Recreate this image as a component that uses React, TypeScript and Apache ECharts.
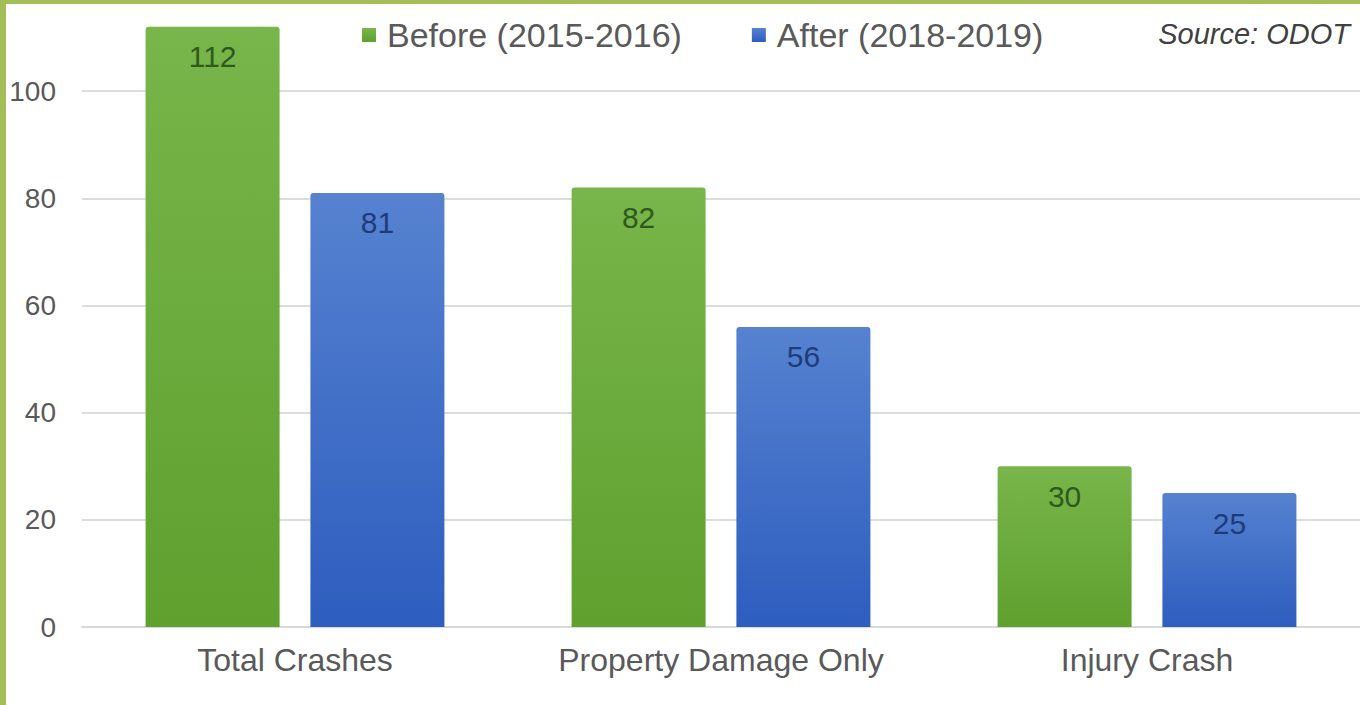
import React, { useEffect, useRef } from "react";
import * as echarts from "echarts";

const categories = ["Total Crashes", "Property Damage Only", "Injury Crash"];
const beforeValues = [112, 82, 30];
const afterValues = [81, 56, 25];
const seriesNames = ["Before (2015-2016)", "After (2018-2019)"];
const sourceText = "Source: ODOT";

const FONT = "'Liberation Sans', Arial, sans-serif";
const SHIFT = 16; // chart canvas extends above the page so the 120 gridline is hidden

export default function App() {
  const ref = useRef<HTMLDivElement>(null);
  useEffect(() => {
    if (!ref.current) return;
    const chart = echarts.init(ref.current, undefined, { renderer: "svg" });
    const green = new echarts.graphic.LinearGradient(0, 0, 0, 1, [
      { offset: 0, color: "#78b54a" },
      { offset: 1, color: "#5fa02f" },
    ]);
    const blue = new echarts.graphic.LinearGradient(0, 0, 0, 1, [
      { offset: 0, color: "#5682d0" },
      { offset: 1, color: "#2d5dbf" },
    ]);
    chart.setOption({
      animation: false,
      backgroundColor: "#ffffff",
      grid: { left: 82, right: 0, top: 0, bottom: 78, containLabel: false },
      legend: {
        top: 13 + SHIFT,
        left: 357,
        itemWidth: 14,
        itemHeight: 14,
        itemGap: 70,
        icon: "rect",
        textStyle: { fontFamily: FONT, fontSize: 34, color: "#595959", padding: [0, 0, 0, 6] },
        data: seriesNames,
      },
      xAxis: {
        type: "category",
        data: categories,
        axisLine: { lineStyle: { color: "#d9d9d9", width: 2 } },
        axisTick: { show: false },
        axisLabel: { fontFamily: FONT, fontSize: 32, color: "#595959", margin: 17 },
      },
      yAxis: {
        type: "value",
        min: 0,
        max: 120,
        interval: 20,
        axisLine: { show: false },
        axisTick: { show: false },
        splitLine: { lineStyle: { color: "#dcdcdc", width: 2 } },
        axisLabel: {
          fontFamily: FONT,
          fontSize: 28,
          color: "#595959",
          margin: 26,
          formatter: (v: number) => (v > 100 ? "" : String(v)),
        },
      },
      series: [
        {
          name: seriesNames[0],
          type: "bar",
          data: beforeValues,
          barWidth: 134,
          barGap: "23%",
          itemStyle: { color: green, borderRadius: [3, 3, 0, 0] },
          label: {
            show: true,
            position: "insideTop",
            distance: 15,
            fontFamily: FONT,
            fontSize: 30,
            color: "#2f5a1d",
          },
        },
        {
          name: seriesNames[1],
          type: "bar",
          data: afterValues,
          barWidth: 134,
          barGap: "23%",
          itemStyle: { color: blue, borderRadius: [3, 3, 0, 0] },
          label: {
            show: true,
            position: "insideTop",
            distance: 15,
            fontFamily: FONT,
            fontSize: 30,
            color: "#1f3c7a",
          },
        },
      ],
      graphic: [
        { type: "rect", left: 0, top: 0, shape: { width: 1360, height: 4 + SHIFT }, style: { fill: "#a4be58" }, z: 100 },
        { type: "rect", left: 0, top: 0, shape: { width: 6, height: 705 + SHIFT }, style: { fill: "#a4be58" }, z: 100 },
        {
          type: "text",
          right: 10,
          top: 19 + SHIFT,
          style: {
            text: sourceText,
            fontFamily: FONT,
            fontSize: 29,
            fontStyle: "italic",
            fill: "#404040",
          },
        },
      ],
    });
    return () => chart.dispose();
  }, []);
  return (
    <div
      ref={ref}
      style={{ position: "fixed", left: 0, top: -SHIFT, width: 1360, height: 705 + SHIFT, background: "#fff" }}
    />
  );
}
